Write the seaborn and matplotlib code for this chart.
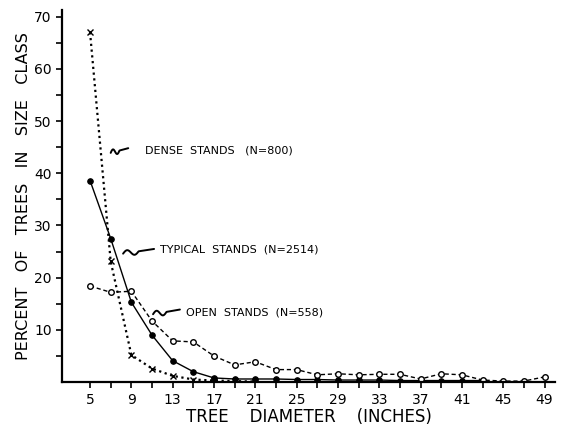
import numpy as np
import pandas as pd
import matplotlib.pyplot as plt
import seaborn as sns

sns.set_theme(style="ticks")
plt.rcParams['font.family'] = ['DejaVu Sans']
plt.rcParams['text.color'] = 'black'
plt.rcParams['axes.labelcolor'] = 'black'

# diameter classes (inches)
dense_x = [5, 7, 9, 11, 13, 15, 17, 19, 21]
dense_y = [67, 23.1, 5.2, 2.6, 1.2, 0.5, 0.3, 0.2, 0.1]

typical_x = [5, 7, 9, 11, 13, 15, 17, 19, 21, 23, 25, 27, 29, 31, 33, 35, 37, 39, 41, 43]
typical_y = [38.6, 27.5, 15.3, 9.0, 4.1, 2.0, 0.8, 0.6, 0.6, 0.6, 0.5, 0.5, 0.4, 0.4, 0.4, 0.3, 0.3, 0.3, 0.3, 0.3]

open_x = [5, 7, 9, 11, 13, 15, 17, 19, 21, 23, 25, 27, 29, 31, 33, 35, 37, 39, 41, 43, 45, 47, 49]
open_y = [18.4, 17.2, 17.4, 11.7, 7.9, 7.7, 5.0, 3.3, 3.9, 2.4, 2.4, 1.4, 1.6, 1.4, 1.5, 1.5, 0.6, 1.6, 1.4, 0.4, 0.2, 0.2, 1.0]

labels = ['DENSE  STANDS   (N=800)', 'TYPICAL  STANDS  (N=2514)', 'OPEN  STANDS  (N=558)']

fig, ax = plt.subplots(figsize=(5.65, 4.26), dpi=100)
fig.subplots_adjust(left=0.11, right=0.982, bottom=0.103, top=0.977)

sns.lineplot(x=dense_x, y=dense_y, ax=ax, color='black', linestyle=(0, (1, 1.6)),
             linewidth=1.6, marker='x', markersize=4, markeredgewidth=1, markeredgecolor='black')
sns.lineplot(x=typical_x, y=typical_y, ax=ax, color='black', linestyle='-',
             linewidth=1.0, marker='o', markersize=4, markeredgecolor='black', markerfacecolor='black')
sns.lineplot(x=open_x, y=open_y, ax=ax, color='black', linestyle=(0, (3, 2)),
             linewidth=1.0, marker='o', markersize=4, markeredgecolor='black',
             markerfacecolor='white', markeredgewidth=1)

# squiggle leader: small wave then a straight tail
def squiggle(x0, x1, y):
    t = np.linspace(0, 1, 60)
    xs = x0 + (x1 - x0) * t
    wave = np.where(t < 0.5, 0.55 * np.sin(t * 4 * np.pi), 0.0)
    ys = y - 0.4 + wave + 0.9 * t
    ax.plot(xs, ys, color='black', linewidth=1.4)

squiggle(7.0, 8.7, 44.3)
ax.text(10.3, 44.3, labels[0], fontsize=8, va='center', ha='left')
squiggle(8.2, 11.2, 25.0)
ax.text(11.8, 25.4, labels[1], fontsize=8, va='center', ha='left')
squiggle(11.1, 13.7, 13.4)
ax.text(14.3, 13.3, labels[2], fontsize=8, va='center', ha='left')

ax.set_xlim(2.3, 50.0)
ax.set_ylim(0, 71.3)
ax.set_xticks(range(5, 50, 4))
ax.set_xticks(range(5, 50, 2), minor=True)
ax.set_yticks(range(10, 71, 10))
ax.set_yticks(range(5, 71, 5), minor=True)
ax.tick_params(axis='both', which='both', direction='out', width=1.2, colors='black')
ax.tick_params(axis='both', which='major', length=4, labelsize=10)
ax.tick_params(axis='both', which='minor', length=4)

for side in ['top', 'right']:
    ax.spines[side].set_visible(False)
for side in ['left', 'bottom']:
    ax.spines[side].set_linewidth(1.6)
    ax.spines[side].set_color('black')

ax.set_xlabel('TREE    DIAMETER    (INCHES)', fontsize=12, labelpad=1)
ax.set_ylabel('PERCENT   OF   TREES   IN   SIZE   CLASS', fontsize=11.5, labelpad=2)

plt.savefig('out.png', dpi=100)
